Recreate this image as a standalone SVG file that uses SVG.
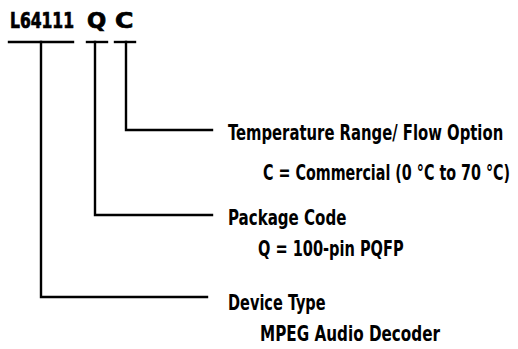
<svg xmlns="http://www.w3.org/2000/svg" width="518" height="349" viewBox="0 0 518 349">
<style>
.t{font-family:"DejaVu Sans Condensed","DejaVu Sans",sans-serif;font-stretch:condensed;font-weight:bold;font-size:21px;fill:#000}
.h{font-family:"DejaVu Sans Condensed","DejaVu Sans",sans-serif;font-stretch:condensed;font-weight:bold;font-size:22px;fill:#000;stroke:#000;stroke-width:0.7}
.c{fill:none;stroke:#000;stroke-width:2.4;stroke-linecap:square}
</style>
<rect width="518" height="349" fill="#fff"/>
<g id="title">
<text class="h" transform="translate(10,28) scale(0.8,1)" textLength="80" lengthAdjust="spacingAndGlyphs">L64111</text>
<text class="h" transform="translate(87,28) scale(0.8,1)" textLength="24" lengthAdjust="spacingAndGlyphs">Q</text>
<text class="h" transform="translate(115,28) scale(0.8,1)" textLength="23" lengthAdjust="spacingAndGlyphs">C</text>
</g>
<g id="connectors">
<line class="c" x1="9" y1="42" x2="73" y2="42"/>
<line class="c" x1="87" y1="42" x2="107" y2="42"/>
<line class="c" x1="115" y1="42" x2="135" y2="42"/>
<polyline class="c" points="41,42 41,297 207,297"/>
<polyline class="c" points="95,42 95,215 212,215"/>
<polyline class="c" points="126,42 126,130 212,130"/>
</g>
<g id="temperature">
<text class="t" transform="translate(228,140) scale(0.8,1)" textLength="344" lengthAdjust="spacingAndGlyphs">Temperature Range/ Flow Option</text>
<text class="t" transform="translate(263,180) scale(0.74,1)" textLength="334" lengthAdjust="spacingAndGlyphs">C = Commercial (0 °C to 70 °C)</text>
</g>
<g id="package">
<text class="t" transform="translate(228,225) scale(0.8,1)" textLength="148" lengthAdjust="spacingAndGlyphs">Package Code</text>
<text class="t" transform="translate(258,256) scale(0.8,1)" textLength="182" lengthAdjust="spacingAndGlyphs">Q = 100-pin PQFP</text>
</g>
<g id="device">
<text class="t" transform="translate(228,310) scale(0.8,1)" textLength="122" lengthAdjust="spacingAndGlyphs">Device Type</text>
<text class="t" transform="translate(260,341) scale(0.8,1)" textLength="225" lengthAdjust="spacingAndGlyphs">MPEG Audio Decoder</text>
</g>
</svg>
